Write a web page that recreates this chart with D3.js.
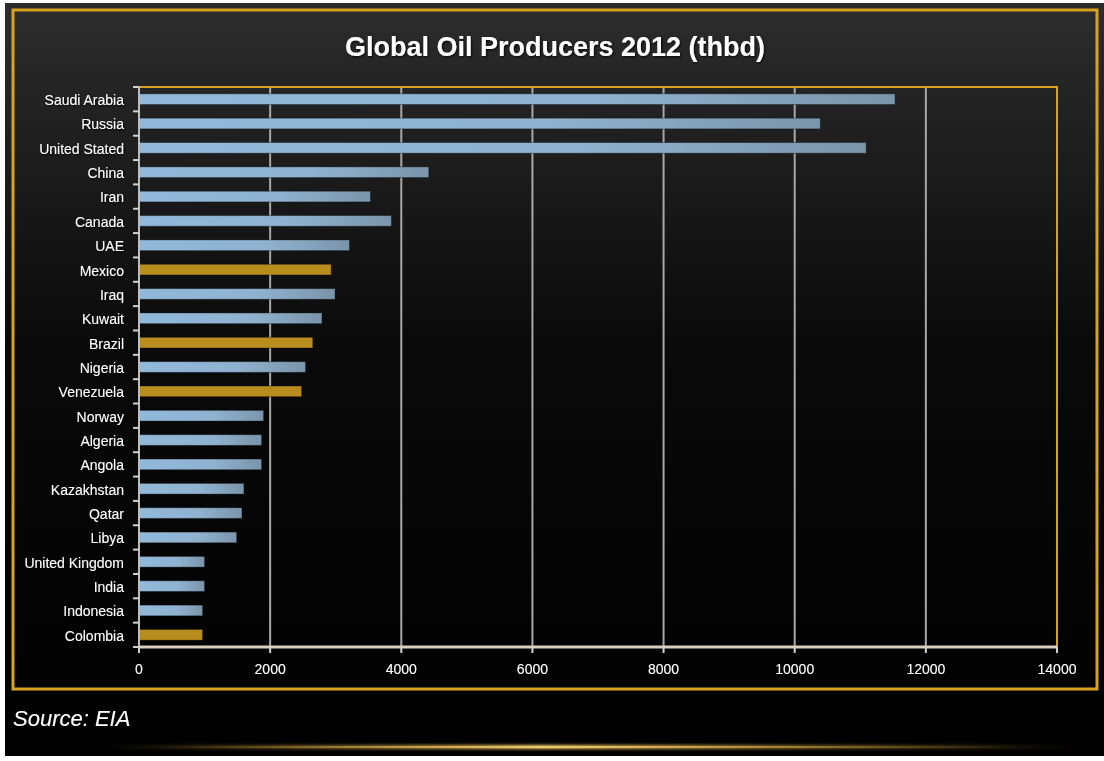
<!DOCTYPE html>
<html>
<head>
<meta charset="utf-8">
<script src="https://cdn.jsdelivr.net/npm/d3@7"></script>
<style>
  html, body { margin: 0; padding: 0; background: #ffffff; }
  svg { display: block; }
  text { font-family: "Liberation Sans Narrow", "Arial Narrow", "Liberation Sans", sans-serif; fill: #ffffff; }
</style>
</head>
<body>
<svg id="canvas" width="1104" height="761"></svg>
<script>
/************* Data **************/
var countries = ["Saudi Arabia", "Russia", "United Stated", "China", "Iran", "Canada", "UAE",
  "Mexico", "Iraq", "Kuwait", "Brazil", "Nigeria", "Venezuela", "Norway", "Algeria", "Angola",
  "Kazakhstan", "Qatar", "Libya", "United Kingdom", "India", "Indonesia", "Colombia"];
var production = [11530, 10390, 11090, 4420, 3530, 3850, 3210,
  2930, 2990, 2790, 2650, 2540, 2480, 1900, 1870, 1870,
  1600, 1570, 1490, 1000, 1000, 970, 970];
var latinAmerica = ["Mexico", "Brazil", "Venezuela", "Colombia"];
var xTicks = [0, 2000, 4000, 6000, 8000, 10000, 12000, 14000];

/********** Initialisation *********/
var svg = d3.select("#canvas");
var defs = svg.append("defs");

var bg = defs.append("linearGradient").attr("id", "bg")
    .attr("x1", 0).attr("y1", 0).attr("x2", 0).attr("y2", 1);
bg.append("stop").attr("offset", "0%").attr("stop-color", "#2d2d2d");
bg.append("stop").attr("offset", "45%").attr("stop-color", "#0a0a0a");
bg.append("stop").attr("offset", "100%").attr("stop-color", "#000000");

var blue = defs.append("linearGradient").attr("id", "blueBar")
    .attr("x1", 0).attr("y1", 0).attr("x2", 1).attr("y2", 0);
blue.append("stop").attr("offset", "0%").attr("stop-color", "#92b9da");
blue.append("stop").attr("offset", "60%").attr("stop-color", "#8fb2d0");
blue.append("stop").attr("offset", "100%").attr("stop-color", "#7b95aa");

var glow = defs.append("radialGradient").attr("id", "glow")
    .attr("cx", "50%").attr("cy", "100%").attr("r", "55%");
glow.append("stop").attr("offset", "0%").attr("stop-color", "#6a6a6a");
glow.append("stop").attr("offset", "50%").attr("stop-color", "#2e2e2e");
glow.append("stop").attr("offset", "100%").attr("stop-color", "#000000").attr("stop-opacity", 0);

var line = defs.append("linearGradient").attr("id", "goldLine")
    .attr("x1", 0).attr("y1", 0).attr("x2", 1).attr("y2", 0);
line.append("stop").attr("offset", "0%").attr("stop-color", "#c8942a").attr("stop-opacity", 0);
line.append("stop").attr("offset", "45%").attr("stop-color", "#f0c868").attr("stop-opacity", 1);
line.append("stop").attr("offset", "100%").attr("stop-color", "#c8942a").attr("stop-opacity", 0);

var shadow = defs.append("filter").attr("id", "shadow")
    .attr("x", "-10%").attr("y", "-30%").attr("width", "120%").attr("height", "160%");
shadow.append("feDropShadow").attr("dx", 1).attr("dy", 1).attr("stdDeviation", 0.8)
    .attr("flood-color", "#000").attr("flood-opacity", 0.9);

var blur = defs.append("filter").attr("id", "blur")
    .attr("x", "-5%").attr("y", "-200%").attr("width", "110%").attr("height", "500%");
blur.append("feGaussianBlur").attr("stdDeviation", 1.5);

defs.append("clipPath").attr("id", "panelClip")
  .append("rect").attr("x", 5).attr("y", 3).attr("width", 1099).attr("height", 753);

/********** Background ***********/
var panel = svg.append("g").attr("clip-path", "url(#panelClip)");
panel.append("rect").attr("x", 5).attr("y", 3).attr("width", 1099).attr("height", 753)
    .attr("fill", "url(#bg)");
panel.append("ellipse").attr("cx", 620).attr("cy", 748).attr("rx", 560).attr("ry", 60)
    .attr("fill", "url(#glow)");
panel.append("rect").attr("x", 5).attr("y", 748).attr("width", 1099).attr("height", 8)
    .attr("fill", "#000");
panel.append("rect").attr("x", 100).attr("y", 745).attr("width", 980).attr("height", 4)
    .attr("fill", "url(#goldLine)").attr("filter", "url(#blur)");
panel.append("rect").attr("x", 160).attr("y", 746).attr("width", 860).attr("height", 2)
    .attr("fill", "url(#goldLine)");

// outer frame
svg.append("rect").attr("x", 13).attr("y", 10).attr("width", 1084).attr("height", 679)
    .attr("fill", "none").attr("stroke", "#d9a21e").attr("stroke-width", 3);

// title
svg.append("text").attr("x", 555).attr("y", 56).attr("text-anchor", "middle")
    .attr("font-size", 27).attr("font-weight", "bold").attr("filter", "url(#shadow)")
    .text("Global Oil Producers 2012 (thbd)");

/*********** Scales *************/
var plotLeft = 139, plotRight = 1057, plotTop = 87, plotBottom = 647;
var x = d3.scaleLinear().domain([0, 14000]).range([plotLeft, plotRight]);
var y = d3.scaleBand().domain(countries).range([plotTop, plotBottom]).paddingInner(0.56).paddingOuter(0.28);
var yb = d3.scaleBand().domain(countries).range([plotTop, plotBottom]);

// grid lines
svg.append("g").selectAll("line").data(xTicks.slice(1, -1)).enter().append("line")
    .attr("x1", function(d) { return x(d); }).attr("x2", function(d) { return x(d); })
    .attr("y1", plotTop).attr("y2", plotBottom)
    .attr("stroke", "#a8a8a8").attr("stroke-width", 2);

// plot frame top + right
svg.append("path")
    .attr("d", "M" + plotLeft + "," + plotTop + "H" + plotRight + "V" + plotBottom)
    .attr("fill", "none").attr("stroke", "#d9a21e").attr("stroke-width", 2);

/********** Bars ***********/
svg.append("g").selectAll("rect").data(countries).enter().append("rect")
    .attr("x", x(0))
    .attr("y", function(d) { return y(d); })
    .attr("width", function(d, i) { return x(production[i]) - x(0); })
    .attr("height", y.bandwidth())
    .attr("fill", function(d) { return latinAmerica.indexOf(d) >= 0 ? "#b88d1d" : "url(#blueBar)"; })
    .attr("stroke", "#000").attr("stroke-opacity", 0.35).attr("stroke-width", 1);

/********** Axes ***********/
var yAxis = svg.append("g")
    .attr("transform", "translate(" + plotLeft + ",0)");
yAxis.append("line").attr("x1", 0).attr("x2", 0).attr("y1", plotTop).attr("y2", plotBottom)
    .attr("stroke", "#bdbdbd").attr("stroke-width", 2);
yAxis.selectAll("line.tick").data(countries.concat(["end"])).enter().append("line")
    .attr("class", "tick")
    .attr("x1", -6).attr("x2", 0)
    .attr("y1", function(d, i) { return plotTop + i * yb.step(); })
    .attr("y2", function(d, i) { return plotTop + i * yb.step(); })
    .attr("stroke", "#d0d0d0").attr("stroke-width", 2);
yAxis.selectAll("text").data(countries).enter().append("text")
    .attr("x", -15)
    .attr("y", function(d) { return yb(d) + yb.bandwidth() / 2 + 1; })
    .attr("dy", "0.35em").attr("text-anchor", "end")
    .attr("font-size", 14).attr("filter", "url(#shadow)")
    .text(function(d) { return d; });

var xAxis = svg.append("g");
xAxis.append("line").attr("x1", plotLeft).attr("x2", plotRight).attr("y1", plotBottom).attr("y2", plotBottom)
    .attr("stroke", "#d8cfc0").attr("stroke-width", 3);
xAxis.selectAll("line.tick").data(xTicks).enter().append("line")
    .attr("class", "tick")
    .attr("x1", function(d) { return x(d); }).attr("x2", function(d) { return x(d); })
    .attr("y1", plotBottom).attr("y2", plotBottom + 6)
    .attr("stroke", "#d0d0d0").attr("stroke-width", 2);
xAxis.selectAll("text").data(xTicks).enter().append("text")
    .attr("x", function(d) { return x(d); })
    .attr("y", 674).attr("text-anchor", "middle")
    .attr("font-size", 14).attr("filter", "url(#shadow)")
    .text(function(d) { return d; });

// source
svg.append("text").attr("x", 13).attr("y", 726)
    .attr("font-size", 22).attr("font-style", "italic")
    .attr("font-family", "'Liberation Sans', Arial, sans-serif")
    .attr("filter", "url(#shadow)")
    .text("Source: EIA");
</script>
</body>
</html>
